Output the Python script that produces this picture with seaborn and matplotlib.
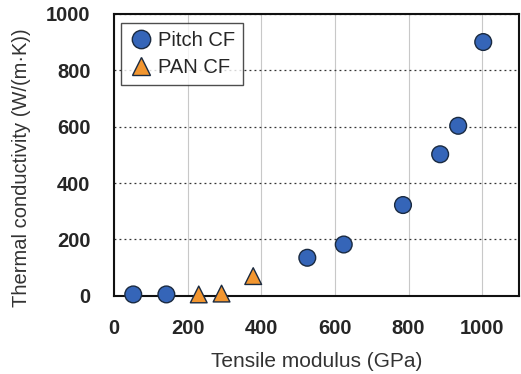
import pandas as pd
import seaborn as sns
from matplotlib import pyplot as plt

pitch_modulus = [52, 142, 525, 624, 785, 886, 935, 1003]
pitch_tc = [5, 5, 135, 182, 322, 502, 603, 900]
pan_modulus = [230, 292, 378]
pan_tc = [5, 8, 70]

df = pd.DataFrame({
    'modulus': pitch_modulus + pan_modulus,
    'tc': pitch_tc + pan_tc,
    'fiber': ['Pitch CF'] * len(pitch_modulus) + ['PAN CF'] * len(pan_modulus),
})

sns.set_style('white')
plt.rcParams['font.family'] = ['Liberation Sans', 'DejaVu Sans']

fig = plt.figure(figsize=(5.21, 3.74), dpi=100)
ax = fig.add_axes([0.219, 0.209, 0.777, 0.754])

ax.grid(axis='x', color='#c8c8c8', linewidth=0.8, linestyle='-')
ax.grid(axis='y', color='#333333', linewidth=0.9, linestyle=(0, (1.5, 2.5)))
ax.set_axisbelow(True)

sns.scatterplot(data=df, x='modulus', y='tc', hue='fiber', style='fiber',
                palette={'Pitch CF': '#3565b8', 'PAN CF': '#f29630'},
                markers={'Pitch CF': 'o', 'PAN CF': '^'},
                s=145, edgecolor='#1a2a40', linewidth=1.0, ax=ax, zorder=3,
                clip_on=False)

ax.set_xlim(0, 1100)
ax.set_ylim(0, 1000)
ax.set_xticks([0, 200, 400, 600, 800, 1000])
ax.set_yticks([0, 200, 400, 600, 800, 1000])
for lab in ax.get_xticklabels() + ax.get_yticklabels():
    lab.set_fontweight('bold')
    lab.set_fontsize(14.5)
ax.tick_params(axis='x', pad=17, length=0)
ax.tick_params(axis='y', pad=17, length=0)

for sp in ax.spines.values():
    sp.set_color('#111111')
    sp.set_linewidth(1.5)

ax.set_xlabel('Tensile modulus (GPa)', fontsize=15, color='#333333', labelpad=10)
ax.set_ylabel('Thermal conductivity (W/(m·K))', fontsize=14.5, color='#333333')
ax.yaxis.set_label_coords(-0.205, 0.455)

leg = ax.legend(loc='upper left', fontsize=14.5, frameon=True, fancybox=False,
                edgecolor='#222222', handletextpad=0.25, handlelength=1.2,
                borderpad=0.4, labelspacing=0.4, markerscale=1.1,
                borderaxespad=0, bbox_to_anchor=(0.017, 0.967))
leg.get_frame().set_linewidth(1.0)

plt.savefig('out.png', dpi=100)
